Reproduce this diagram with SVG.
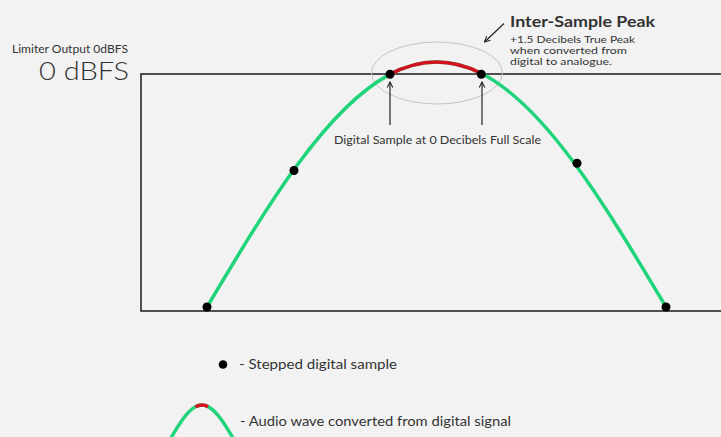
<svg xmlns="http://www.w3.org/2000/svg" xmlns:xlink="http://www.w3.org/1999/xlink" width="721" height="437" viewBox="0 0 721 437">
<style>
.t{font-family:Lato,"Open Sans","Liberation Sans",sans-serif;fill:#333;}
.frame{fill:none;stroke:#1a1a1a;stroke-width:1.5;}
.green{fill:none;stroke:#1fd47a;stroke-width:3.5;stroke-linecap:butt;}
.red{fill:none;stroke:#d2121f;stroke-width:3.5;}
.dot{fill:#000;}
.arr{fill:none;stroke:#222;stroke-width:1.2;}
</style>
<defs>
<path id="wave" d="M207 307 C237.33 256.13 267.67 205.35 298 164.04 C328.33 122.73 358.67 91.09 389 74.84 C419.67 58.42 450.33 57.85 481 73.27 C511.83 88.77 542.67 120.39 573.5 162.08 C604.33 203.77 635.17 255.3 666 307"/>
<path id="peak" d="M389 74.84 C419.67 58.42 450.33 57.85 481 73.27"/>
<marker id="ah" viewBox="0 0 10 10" refX="9" refY="5" markerWidth="7" markerHeight="7" markerUnits="userSpaceOnUse" orient="auto">
<path d="M1 1 L9 5 L1 9" fill="none" stroke="#222" stroke-width="1.5"/>
</marker>
</defs>
<rect width="721" height="437" fill="#f2f2f2"/>
<g id="axes">
<path class="frame" d="M723 74 H141 V311 H723"/>
</g>
<g id="peak-ellipse">
<ellipse cx="437" cy="73" rx="65.5" ry="31" fill="none" stroke="#c4c4c4" stroke-width="1"/>
</g>
<g id="wave-curve">
<use xlink:href="#wave" class="green"/>
<use xlink:href="#peak" class="red"/>
</g>
<g id="samples">
<circle class="dot" cx="207" cy="307" r="4.5"/>
<circle class="dot" cx="294" cy="170.5" r="4.5"/>
<circle class="dot" cx="390" cy="74.3" r="4.5"/>
<circle class="dot" cx="481.3" cy="74.3" r="4.5"/>
<circle class="dot" cx="577" cy="163.3" r="4.5"/>
<circle class="dot" cx="666" cy="307" r="4.5"/>
</g>
<g id="connectors">
<line class="arr" x1="390" y1="125" x2="390" y2="82" marker-end="url(#ah)"/>
<line class="arr" x1="482" y1="125" x2="482" y2="82" marker-end="url(#ah)"/>
<line class="arr" x1="504" y1="23.5" x2="484.5" y2="42" marker-end="url(#ah)"/>
</g>
<g id="labels">
<text class="t" x="12" y="53" font-size="11.5" textLength="116" lengthAdjust="spacingAndGlyphs">Limiter Output 0dBFS</text>
<text class="t" x="39" y="79.5" font-size="25" font-weight="300" fill="#222" textLength="90" lengthAdjust="spacingAndGlyphs">0 dBFS</text>
<text class="t" x="510" y="26.5" font-size="16" font-weight="bold" fill="#111" textLength="145" lengthAdjust="spacingAndGlyphs">Inter-Sample Peak</text>
<text class="t" x="510" y="42.5" font-size="10" fill="#444" textLength="125" lengthAdjust="spacingAndGlyphs">+1.5 Decibels True Peak</text>
<text class="t" x="510" y="53.5" font-size="10" fill="#444" textLength="117" lengthAdjust="spacingAndGlyphs">when converted from</text>
<text class="t" x="510" y="64.5" font-size="10" fill="#444" textLength="102" lengthAdjust="spacingAndGlyphs">digital to analogue.</text>
<text class="t" x="334" y="143.5" font-size="12" textLength="207" lengthAdjust="spacingAndGlyphs">Digital Sample at 0 Decibels Full Scale</text>
</g>
<g id="legend-sample">
<circle class="dot" cx="223" cy="364.5" r="4.3"/>
<text class="t" x="239" y="368.5" font-size="14" textLength="158" lengthAdjust="spacingAndGlyphs">- Stepped digital sample</text>
</g>
<g id="legend-wave">
<g transform="translate(170.5 438.6) scale(0.137) translate(-207 -307)">
<use xlink:href="#wave" class="green" style="stroke-width:25.5"/>
<use xlink:href="#peak" class="red" style="stroke-width:25.5"/>
</g>
<text class="t" x="240" y="425.5" font-size="14" textLength="271" lengthAdjust="spacingAndGlyphs">- Audio wave converted from digital signal</text>
</g>
</svg>
